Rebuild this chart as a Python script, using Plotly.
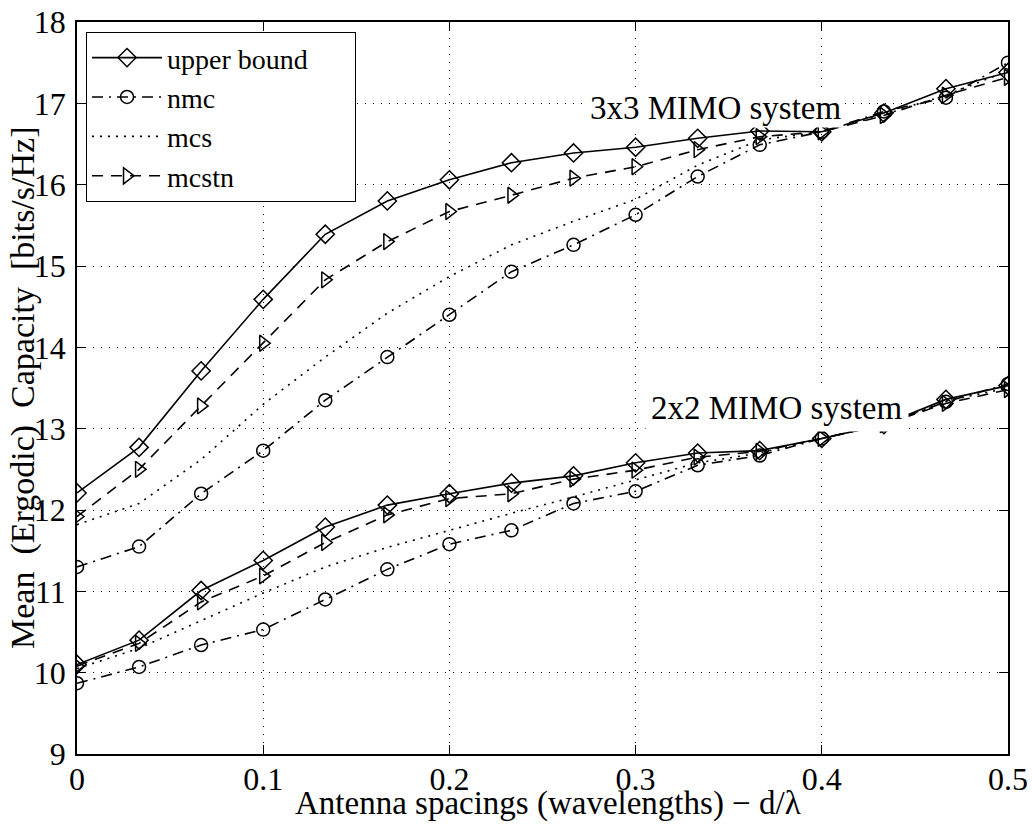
import plotly.graph_objects as go

# ---- data ----
spacing = [0, 1/30, 2/30, 3/30, 4/30, 5/30, 6/30, 7/30, 8/30, 9/30, 10/30, 11/30, 12/30, 13/30, 14/30, 15/30]

# 3x3 MIMO system
ub_3x3    = [12.21, 12.77, 13.71, 14.59, 15.39, 15.80, 16.06, 16.27, 16.39, 16.46, 16.57, 16.66, 16.65, 16.88, 17.18, 17.38]
nmc_3x3   = [11.30, 11.55, 12.20, 12.73, 13.35, 13.88, 14.40, 14.93, 15.26, 15.63, 16.10, 16.49, 16.65, 16.90, 17.07, 17.50]
mcs_3x3   = [11.82, 12.08, 12.62, 13.30, 13.88, 14.42, 14.87, 15.26, 15.55, 15.82, 16.24, 16.55, 16.65, 16.86, 17.10, 17.40]
mcstn_3x3 = [11.92, 12.50, 13.28, 14.05, 14.83, 15.30, 15.67, 15.87, 16.08, 16.22, 16.43, 16.59, 16.65, 16.85, 17.10, 17.32]

# 2x2 MIMO system
ub_2x2    = [10.10, 10.40, 11.01, 11.38, 11.79, 12.06, 12.20, 12.33, 12.42, 12.58, 12.70, 12.73, 12.88, 13.05, 13.36, 13.53]
nmc_2x2   = [9.87, 10.07, 10.34, 10.53, 10.90, 11.27, 11.58, 11.75, 12.08, 12.23, 12.55, 12.67, 12.88, 13.05, 13.33, 13.55]
mcs_2x2   = [10.05, 10.30, 10.64, 10.98, 11.30, 11.54, 11.75, 11.96, 12.16, 12.37, 12.58, 12.70, 12.88, 13.05, 13.34, 13.50]
mcstn_2x2 = [10.08, 10.36, 10.87, 11.19, 11.60, 11.94, 12.14, 12.20, 12.38, 12.49, 12.65, 12.72, 12.88, 13.05, 13.31, 13.48]

series_names = ["upper bound", "nmc", "mcs", "mcstn"]
x_ticks = [0, 0.1, 0.2, 0.3, 0.4, 0.5]
x_ticklabels = ["0", "0.1", "0.2", "0.3", "0.4", "0.5"]
y_ticks = [9, 10, 11, 12, 13, 14, 15, 16, 17, 18]

FONT = "Liberation Serif, Times New Roman, Times, serif"
PAD = "\u00a0" * 6  # widens the legend box to fit its text

styles = {
    "upper bound": dict(dash="solid", symbol="diamond-open", size=14),
    "nmc": dict(dash="11px,6px,2px,6px", symbol="circle-open", size=13),
    "mcs": dict(dash="2px,6px", symbol=None, size=0),
    "mcstn": dict(dash="11px,8px", symbol="triangle-right-open", size=14),
}

fig = go.Figure()
for system, vals, show in [("3x3", [ub_3x3, nmc_3x3, mcs_3x3, mcstn_3x3], True),
                           ("2x2", [ub_2x2, nmc_2x2, mcs_2x2, mcstn_2x2], False)]:
    for name, y in zip(series_names, vals):
        st = styles[name]
        mode = "lines+markers" if st["symbol"] else "lines"
        marker = dict(symbol=st["symbol"], size=st["size"], color="black",
                      line=dict(color="black", width=1.5)) if st["symbol"] else None
        fig.add_trace(go.Scatter(
            x=spacing, y=y, mode=mode, name=name + PAD, legendgroup=name,
            showlegend=show,
            line=dict(color="black", width=1.6, dash=st["dash"]),
            marker=marker,
        ))

fig.update_layout(
    width=1032, height=824,
    margin=dict(l=77, r=24, t=22, b=70),
    paper_bgcolor="white", plot_bgcolor="white",
    font=dict(family=FONT, size=32, color="black"),
    showlegend=True,
    legend=dict(
        x=0.0097, y=0.9865, xanchor="left", yanchor="top",
        bgcolor="white", bordercolor="black", borderwidth=1,
        font=dict(family=FONT, size=28, color="black"),
        tracegroupgap=0, itemwidth=70,
    ),
    xaxis=dict(
        range=[0, 0.5], tickvals=x_ticks, ticktext=x_ticklabels,
        showline=True, linecolor="black", linewidth=1.5, mirror="ticks",
        ticks="inside", ticklen=9, tickcolor="black", tickwidth=1,
        showgrid=True, gridcolor="black", gridwidth=1, griddash="1px,7px",
        zeroline=False, tickfont=dict(family=FONT, size=32),
        ticklabelstandoff=-4, automargin=False,
    ),
    yaxis=dict(
        range=[9, 18], tickvals=y_ticks,
        showline=True, linecolor="black", linewidth=1.5, mirror="ticks",
        ticks="inside", ticklen=9, tickcolor="black", tickwidth=1,
        showgrid=True, gridcolor="black", gridwidth=1, griddash="1px,7px",
        zeroline=False, tickfont=dict(family=FONT, size=32),
        ticklabelstandoff=3, automargin=False,
    ),
    annotations=[
        dict(text="3x3 MIMO system", x=0.412, y=16.94, xref="x", yref="y",
             xanchor="right", yanchor="middle", showarrow=False,
             bgcolor="white", borderpad=1, font=dict(family=FONT, size=33)),
        dict(text="2x2 MIMO system", x=0.4466, y=13.26, xref="x", yref="y",
             xanchor="right", yanchor="middle", showarrow=False,
             bgcolor="white", borderpad=5, font=dict(family=FONT, size=33)),
        dict(text="Antenna spacings (wavelengths) \u2212 d/\u03bb", x=0.506, y=-0.068,
             xref="paper", yref="paper", xanchor="center", yanchor="middle",
             showarrow=False, font=dict(family=FONT, size=33)),
        dict(text="Mean\u00a0\u00a0(Ergodic)\u00a0\u00a0Capacity\u00a0\u00a0[bits/s/Hz]",
             x=-0.058, y=0.5, xref="paper", yref="paper", textangle=-90,
             xanchor="center", yanchor="middle", showarrow=False,
             font=dict(family=FONT, size=34)),
    ],
)

fig.write_html("out.html", config={"displayModeBar": False},
               post_script="document.body.style.margin='0';document.body.style.overflow='hidden';")
